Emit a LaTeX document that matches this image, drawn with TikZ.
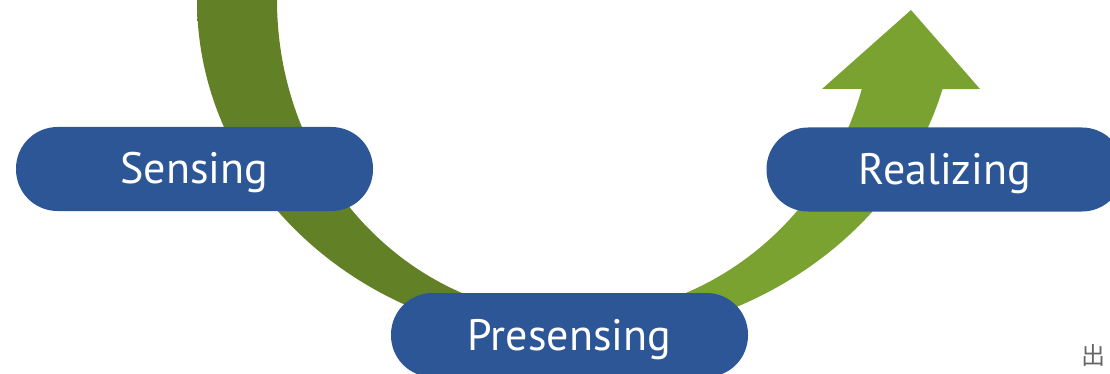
\documentclass[tikz,border=0pt]{standalone}
\usepackage{fontspec}
\setmainfont{PT Sans}
\newfontfamily\cjkfont{Noto Sans CJK JP}
\definecolor{gdark}{HTML}{628026}
\definecolor{glight}{HTML}{7AA230}
\definecolor{pillblue}{HTML}{2D5697}
\definecolor{srcgray}{HTML}{666666}
\pgfdeclarehorizontalshading{ushade}{100bp}{color(0bp)=(gdark); color(43bp)=(gdark); color(55bp)=(glight); color(100bp)=(glight)}
\begin{document}
\begin{tikzpicture}[x=1pt,y=-1pt,
  pill/.style={fill=pillblue, text=white, rounded corners=41.5pt,
    minimum width=357pt, minimum height=84pt, inner sep=0pt,
    text height=32pt, text depth=2pt,
    font=\fontsize{44}{50}\selectfont}]
\useasboundingbox (0,0) rectangle (1110,374);
\clip (0,0) rectangle (1110,374);
% U-shaped arrow band (outer and inner elliptic edges)
\path[shading=ushade]
  (197,-10) -- (197,0)
  arc[start angle=180, end angle=90, x radius=374, y radius=340]
  arc[start angle=90, end angle=15.18, x radius=385, y radius=340]
  -- (980,89) -- (911,10) -- (822,89) -- (861.8,89)
  arc[start angle=16.36, end angle=90, x radius=301, y radius=316]
  arc[start angle=90, end angle=180, x radius=296, y radius=316]
  -- (277,-10) -- cycle;
% pills
\node[pill] (sensing) at (194.5,169) {Sensing};
\node[pill] (realizing) at (945,169.5) {Realizing};
\node[pill] (presensing) at (569.5,335) {Presensing};
\node[text=srcgray, font=\cjkfont\fontsize{24}{24}\selectfont, anchor=west, inner sep=0pt] (src) at (1081,355) {出};
\end{tikzpicture}
\end{document}
